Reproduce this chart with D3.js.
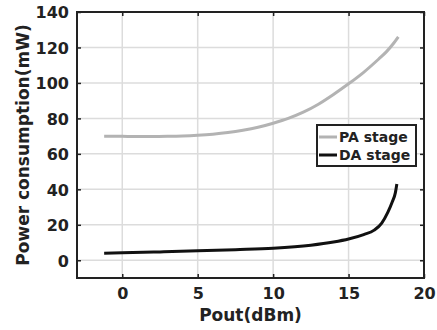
<!DOCTYPE html>
<html>
<head>
<meta charset="utf-8">
<script src="https://cdn.jsdelivr.net/npm/d3@7"></script>
<style>
  body { margin: 0; background: #fff; }
  text { font-family: "DejaVu Sans", sans-serif; font-weight: bold; fill: #222; }
</style>
</head>
<body>
<script>
// chart size and plot box
var w = 437;
var h = 330;
var margin = {top: 12, right: 13, bottom: 52, left: 77};

// data
var paPout = [-1.2, 0, 1, 2, 3, 4, 5, 6, 7, 8, 9, 10, 11, 12, 13, 14, 15, 16, 17, 17.5, 18, 18.3];
var paPower = [70, 69.9, 69.8, 69.8, 69.9, 70.1, 70.5, 71.1, 72, 73.3, 75, 77.3, 80, 83.5, 88, 93.5, 99.5, 106, 113.5, 117.5, 122.5, 126];
var daPout = [-1.2, 0, 2.5, 5, 7.5, 10, 12.5, 14, 15, 16, 16.7, 17.2, 17.6, 17.9, 18.1, 18.2];
var daPower = [4, 4.2, 4.7, 5.3, 6, 6.8, 8.5, 10.3, 12, 14.5, 17, 21, 27, 33, 38, 43];
var xTicks = [0, 5, 10, 15, 20];
var yTicks = [0, 20, 40, 60, 80, 100, 120, 140];
var legendNames = ["PA stage", "DA stage"];
var colors = ["#b3b3b3", "#111111"];

var x = d3.scaleLinear().domain([-3, 20]).range([margin.left, w - margin.right]);
var y = d3.scaleLinear().domain([-10, 140]).range([h - margin.bottom, margin.top]);

var svg = d3.select("body")
    .append("svg")
    .attr("width", w)
    .attr("height", h);

// grid lines
svg.append("g")
    .selectAll("line")
    .data(xTicks.slice(0, 4))
    .enter()
    .append("line")
    .attr("x1", function(d) { return x(d); })
    .attr("x2", function(d) { return x(d); })
    .attr("y1", y(-10))
    .attr("y2", y(140))
    .attr("stroke", "#dcdcdc")
    .attr("stroke-width", 1.5);

svg.append("g")
    .selectAll("line")
    .data(yTicks.slice(0, 7))
    .enter()
    .append("line")
    .attr("x1", x(-3))
    .attr("x2", x(20))
    .attr("y1", function(d) { return y(d); })
    .attr("y2", function(d) { return y(d); })
    .attr("stroke", "#dcdcdc")
    .attr("stroke-width", 1.5);

// axes, ticks pointing inward
var xAxis = d3.axisBottom(x).tickValues(xTicks).tickSizeInner(-4).tickSizeOuter(0).tickPadding(10);
var yAxis = d3.axisLeft(y).tickValues(yTicks).tickSizeInner(-4).tickSizeOuter(0).tickPadding(8);

var gx = svg.append("g")
    .attr("transform", "translate(0," + (h - margin.bottom) + ")")
    .call(xAxis);
var gy = svg.append("g")
    .attr("transform", "translate(" + margin.left + ",0)")
    .call(yAxis);

svg.append("g")
    .attr("transform", "translate(0," + margin.top + ")")
    .call(d3.axisTop(x).tickValues(xTicks).tickSizeInner(-4).tickSizeOuter(0).tickFormat(""));
svg.append("g")
    .attr("transform", "translate(" + (w - margin.right) + ",0)")
    .call(d3.axisRight(y).tickValues(yTicks).tickSizeInner(-4).tickSizeOuter(0).tickFormat(""));

svg.selectAll(".domain").remove();
svg.selectAll(".tick line").attr("stroke", "#222").attr("stroke-width", 1.5);
gx.selectAll("text").style("font-size", "16px");
gy.selectAll("text").style("font-size", "16px").attr("dy", "0.36em");

// series
var line = d3.line()
    .x(function(d) { return x(d[0]); })
    .y(function(d) { return y(d[1]); })
    .curve(d3.curveMonotoneX);

svg.append("path")
    .datum(d3.zip(paPout, paPower))
    .attr("fill", "none")
    .attr("stroke", colors[0])
    .attr("stroke-width", 3)
    .attr("d", line);

svg.append("path")
    .datum(d3.zip(daPout, daPower))
    .attr("fill", "none")
    .attr("stroke", colors[1])
    .attr("stroke-width", 3)
    .attr("d", line);

// box
svg.append("rect")
    .attr("x", x(-3))
    .attr("y", y(140))
    .attr("width", x(20) - x(-3))
    .attr("height", y(-10) - y(140))
    .attr("fill", "none")
    .attr("stroke", "#222")
    .attr("stroke-width", 2);

// axis labels
svg.append("text")
    .attr("x", (x(-3) + x(20)) / 2)
    .attr("y", 321)
    .attr("text-anchor", "middle")
    .style("font-size", "17px")
    .text("Pout(dBm)");

svg.append("text")
    .attr("transform", "translate(29," + ((y(-10) + y(140)) / 2) + ") rotate(-90)")
    .attr("text-anchor", "middle")
    .style("font-size", "17px")
    .text("Power consumption(mW)");

// legend
var legend = svg.append("g").attr("transform", "translate(317,125)");
legend.append("rect")
    .attr("width", 99)
    .attr("height", 41)
    .attr("fill", "#fff")
    .attr("stroke", "#222")
    .attr("stroke-width", 2);

legendNames.forEach(function(name, i) {
    legend.append("line")
        .attr("x1", 2)
        .attr("x2", 20)
        .attr("y1", 12 + i * 18)
        .attr("y2", 12 + i * 18)
        .attr("stroke", colors[i])
        .attr("stroke-width", 3);
    legend.append("text")
        .attr("x", 22)
        .attr("y", 17 + i * 18)
        .style("font-size", "14px")
        .text(name);
});
</script>
</body>
</html>
